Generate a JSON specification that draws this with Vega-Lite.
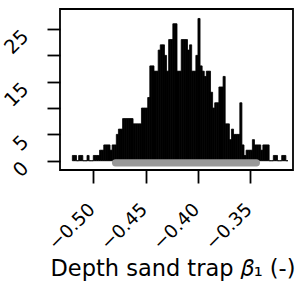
{
  "$schema": "https://vega.github.io/schema/vega-lite/v6.json",
  "autosize": "none",
  "width": 233,
  "height": 161,
  "padding": {"left": 60, "top": 9, "right": 14, "bottom": 113},
  "config": {
    "view": {"stroke": "black", "strokeWidth": 1.8},
    "font": "DejaVu Sans",
    "axis": {
      "grid": false,
      "domain": false,
      "tickColor": "black",
      "tickWidth": 1.8,
      "tickSize": 13,
      "labelColor": "black",
      "labelFont": "DejaVu Sans",
      "labelFontSize": 18,
      "labelAngle": -45,
      "labelAlign": "right",
      "labelBaseline": "middle",
      "labelPadding": 20,
      "labelOverlap": false,
      "titleColor": "black",
      "titleFont": "DejaVu Sans",
      "titleFontWeight": "normal"
    }
  },
  "datasets": {
    "hist": [
      {"lo": -0.520, "hi": -0.518, "count": 1},
      {"lo": -0.518, "hi": -0.516, "count": 1},
      {"lo": -0.516, "hi": -0.514, "count": 0},
      {"lo": -0.514, "hi": -0.512, "count": 1},
      {"lo": -0.512, "hi": -0.510, "count": 1},
      {"lo": -0.510, "hi": -0.508, "count": 0},
      {"lo": -0.508, "hi": -0.506, "count": 0},
      {"lo": -0.506, "hi": -0.504, "count": 1},
      {"lo": -0.504, "hi": -0.502, "count": 0},
      {"lo": -0.502, "hi": -0.500, "count": 0},
      {"lo": -0.500, "hi": -0.498, "count": 1},
      {"lo": -0.498, "hi": -0.496, "count": 1},
      {"lo": -0.496, "hi": -0.494, "count": 1},
      {"lo": -0.494, "hi": -0.492, "count": 2},
      {"lo": -0.492, "hi": -0.490, "count": 2},
      {"lo": -0.490, "hi": -0.488, "count": 3},
      {"lo": -0.488, "hi": -0.486, "count": 3},
      {"lo": -0.486, "hi": -0.484, "count": 3},
      {"lo": -0.484, "hi": -0.482, "count": 2},
      {"lo": -0.482, "hi": -0.480, "count": 3},
      {"lo": -0.480, "hi": -0.478, "count": 3},
      {"lo": -0.478, "hi": -0.476, "count": 5},
      {"lo": -0.476, "hi": -0.474, "count": 6},
      {"lo": -0.474, "hi": -0.472, "count": 6},
      {"lo": -0.472, "hi": -0.470, "count": 8},
      {"lo": -0.470, "hi": -0.468, "count": 8},
      {"lo": -0.468, "hi": -0.466, "count": 8},
      {"lo": -0.466, "hi": -0.464, "count": 8},
      {"lo": -0.464, "hi": -0.462, "count": 8},
      {"lo": -0.462, "hi": -0.460, "count": 7},
      {"lo": -0.460, "hi": -0.458, "count": 7},
      {"lo": -0.458, "hi": -0.456, "count": 7},
      {"lo": -0.456, "hi": -0.454, "count": 7},
      {"lo": -0.454, "hi": -0.452, "count": 10},
      {"lo": -0.452, "hi": -0.450, "count": 10},
      {"lo": -0.450, "hi": -0.448, "count": 10},
      {"lo": -0.448, "hi": -0.446, "count": 12},
      {"lo": -0.446, "hi": -0.444, "count": 18},
      {"lo": -0.444, "hi": -0.442, "count": 18},
      {"lo": -0.442, "hi": -0.440, "count": 17},
      {"lo": -0.440, "hi": -0.438, "count": 17},
      {"lo": -0.438, "hi": -0.436, "count": 21},
      {"lo": -0.436, "hi": -0.434, "count": 22},
      {"lo": -0.434, "hi": -0.432, "count": 22},
      {"lo": -0.432, "hi": -0.430, "count": 20},
      {"lo": -0.430, "hi": -0.428, "count": 17},
      {"lo": -0.428, "hi": -0.426, "count": 23},
      {"lo": -0.426, "hi": -0.424, "count": 23},
      {"lo": -0.424, "hi": -0.422, "count": 26},
      {"lo": -0.422, "hi": -0.420, "count": 26},
      {"lo": -0.420, "hi": -0.418, "count": 17},
      {"lo": -0.418, "hi": -0.416, "count": 17},
      {"lo": -0.416, "hi": -0.414, "count": 23},
      {"lo": -0.414, "hi": -0.412, "count": 23},
      {"lo": -0.412, "hi": -0.410, "count": 23},
      {"lo": -0.410, "hi": -0.408, "count": 21},
      {"lo": -0.408, "hi": -0.406, "count": 22},
      {"lo": -0.406, "hi": -0.404, "count": 17},
      {"lo": -0.404, "hi": -0.402, "count": 17},
      {"lo": -0.402, "hi": -0.400, "count": 20},
      {"lo": -0.400, "hi": -0.398, "count": 27},
      {"lo": -0.398, "hi": -0.396, "count": 18},
      {"lo": -0.396, "hi": -0.394, "count": 17},
      {"lo": -0.394, "hi": -0.392, "count": 16},
      {"lo": -0.392, "hi": -0.390, "count": 17},
      {"lo": -0.390, "hi": -0.388, "count": 17},
      {"lo": -0.388, "hi": -0.386, "count": 13},
      {"lo": -0.386, "hi": -0.384, "count": 10},
      {"lo": -0.384, "hi": -0.382, "count": 11},
      {"lo": -0.382, "hi": -0.380, "count": 11},
      {"lo": -0.380, "hi": -0.378, "count": 14},
      {"lo": -0.378, "hi": -0.376, "count": 14},
      {"lo": -0.376, "hi": -0.374, "count": 16},
      {"lo": -0.374, "hi": -0.372, "count": 7},
      {"lo": -0.372, "hi": -0.370, "count": 7},
      {"lo": -0.370, "hi": -0.368, "count": 4},
      {"lo": -0.368, "hi": -0.366, "count": 6},
      {"lo": -0.366, "hi": -0.364, "count": 5},
      {"lo": -0.364, "hi": -0.362, "count": 5},
      {"lo": -0.362, "hi": -0.360, "count": 5},
      {"lo": -0.360, "hi": -0.358, "count": 11},
      {"lo": -0.358, "hi": -0.356, "count": 3},
      {"lo": -0.356, "hi": -0.354, "count": 1},
      {"lo": -0.354, "hi": -0.352, "count": 2},
      {"lo": -0.352, "hi": -0.350, "count": 2},
      {"lo": -0.350, "hi": -0.348, "count": 2},
      {"lo": -0.348, "hi": -0.346, "count": 4},
      {"lo": -0.346, "hi": -0.344, "count": 3},
      {"lo": -0.344, "hi": -0.342, "count": 3},
      {"lo": -0.342, "hi": -0.340, "count": 3},
      {"lo": -0.340, "hi": -0.338, "count": 2},
      {"lo": -0.338, "hi": -0.336, "count": 3},
      {"lo": -0.336, "hi": -0.334, "count": 3},
      {"lo": -0.334, "hi": -0.332, "count": 3},
      {"lo": -0.332, "hi": -0.330, "count": 0},
      {"lo": -0.330, "hi": -0.328, "count": 0},
      {"lo": -0.328, "hi": -0.326, "count": 1},
      {"lo": -0.326, "hi": -0.324, "count": 1},
      {"lo": -0.324, "hi": -0.322, "count": 0},
      {"lo": -0.322, "hi": -0.320, "count": 0},
      {"lo": -0.320, "hi": -0.318, "count": 1},
      {"lo": -0.318, "hi": -0.316, "count": 1},
      {"lo": -0.316, "hi": -0.314, "count": 0}
    ],
    "ci": [{"lo": -0.4787, "hi": -0.3442, "y": -0.4}]
  },
  "layer": [
    {
      "data": {"name": "hist"},
      "mark": {"type": "rect", "color": "black", "stroke": "black", "strokeWidth": 0.8},
      "encoding": {
        "x": {
          "field": "lo", "type": "quantitative",
          "scale": {"domain": [-0.5318, -0.3092], "nice": false, "zero": false},
          "axis": {
            "values": [-0.5, -0.45, -0.4, -0.35],
            "format": ".2f",
            "labelFontSize": 18.5,
            "labelPadding": 23,
            "labelOffset": -2,
            "title": "Depth sand trap 𝛽₁ (-)",
            "titleFontSize": 22.5,
            "titlePadding": 5,
            "titleX": 112.5
          }
        },
        "x2": {"field": "hi"},
        "y": {
          "field": "count", "type": "quantitative",
          "scale": {"domain": [-1.76, 28.8], "nice": false, "zero": false},
          "axis": {
            "values": [0, 5, 10, 15, 20, 25],
            "labelFontSize": 19.5,
            "labelPadding": 22,
            "labelOffset": 4,
            "labelExpr": "(datum.value == 10 || datum.value == 20) ? '' : datum.label",
            "title": null
          }
        },
        "y2": {"datum": 0}
      }
    },
    {
      "data": {"name": "ci"},
      "mark": {"type": "rule", "color": "#999999", "strokeWidth": 7.3, "strokeCap": "round"},
      "encoding": {
        "x": {
          "field": "lo", "type": "quantitative",
          "axis": {
            "values": [-0.5, -0.45, -0.4, -0.35],
            "format": ".2f",
            "labelFontSize": 18.5,
            "labelPadding": 23,
            "labelOffset": -2,
            "title": "Depth sand trap 𝛽₁ (-)",
            "titleFontSize": 22.5,
            "titlePadding": 5,
            "titleX": 112.5
          }
        },
        "x2": {"field": "hi"},
        "y": {
          "field": "y", "type": "quantitative",
          "axis": {
            "values": [0, 5, 10, 15, 20, 25],
            "labelFontSize": 19.5,
            "labelPadding": 22,
            "labelOffset": 4,
            "labelExpr": "(datum.value == 10 || datum.value == 20) ? '' : datum.label",
            "title": null
          }
        }
      }
    }
  ]
}
